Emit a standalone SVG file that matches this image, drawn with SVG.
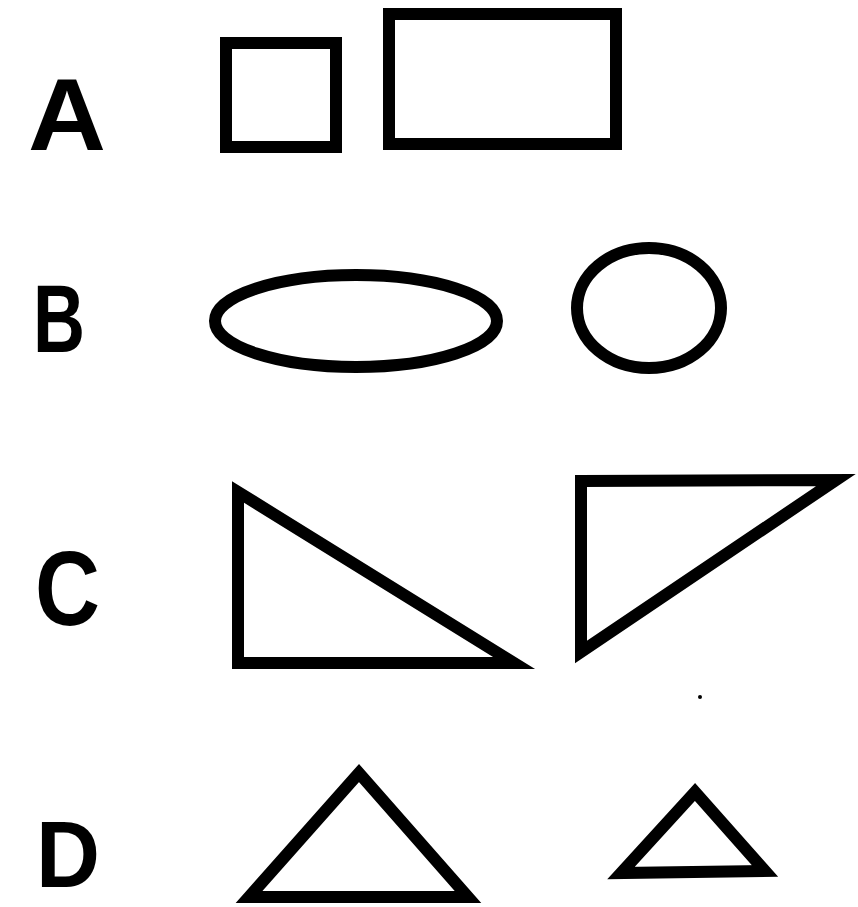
<svg xmlns="http://www.w3.org/2000/svg" width="858" height="907" viewBox="0 0 858 907">
<style>
.s{fill:none;stroke:#000;stroke-width:12;stroke-linejoin:miter;stroke-miterlimit:6}
.l{font-family:"Liberation Sans",Arial,sans-serif;font-weight:bold;fill:#000}
</style>
<rect width="858" height="907" fill="#fff"/>
<g id="label-A"><text class="l" x="28" y="150" font-size="102" textLength="78" lengthAdjust="spacingAndGlyphs">A</text></g>
<g id="A-square"><rect class="s" x="226" y="43" width="110" height="104"/></g>
<g id="A-rect"><rect class="s" x="389" y="14" width="227" height="130"/></g>
<g id="label-B"><text class="l" x="33" y="352" font-size="96" textLength="52" lengthAdjust="spacingAndGlyphs">B</text></g>
<g id="B-ellipse"><ellipse class="s" cx="356" cy="321" rx="141" ry="46" stroke-width="10"/></g>
<g id="B-circle"><ellipse class="s" cx="649" cy="308" rx="72" ry="60" stroke-width="10"/></g>
<g id="label-C"><text class="l" x="35" y="625" font-size="106" textLength="65" lengthAdjust="spacingAndGlyphs">C</text></g>
<g id="C-tri1"><polygon class="s" points="238,492 238,663 514,663"/></g>
<g id="C-tri2"><polygon class="s" points="581,481 836,480 581,652"/></g>
<circle cx="700" cy="697" r="2" fill="#000"/>
<g id="label-D"><text class="l" x="36" y="887" font-size="95" textLength="64" lengthAdjust="spacingAndGlyphs">D</text></g>
<g id="D-tri1"><polygon class="s" points="359,773 249,897 468,897"/></g>
<g id="D-tri2"><polygon class="s" points="695,792 621,873 765,871"/></g>
<g id="connectors"></g>
</svg>
